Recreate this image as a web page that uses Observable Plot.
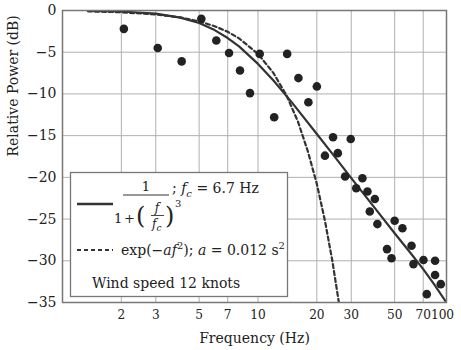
<!DOCTYPE html>
<html>
<head>
<meta charset="utf-8">
<script src="https://cdn.jsdelivr.net/npm/d3@7"></script>
<script src="https://cdn.jsdelivr.net/npm/@observablehq/plot@0.6"></script>
<style>
  html, body { margin: 0; padding: 0; background: white; }
  #wrap { position: relative; width: 461px; height: 350px; }
  #legend { position: absolute; left: 0; top: 0; pointer-events: none; }
</style>
</head>
<body>
<div id="wrap"></div>
<script>
// Measured spectrum (frequency in Hz, relative power in dB)
const pointFreq = [2.06, 3.07, 4.07, 5.13, 6.12, 7.11, 8.09, 9.10, 10.2, 12.1, 14.1, 16.1, 18.1, 20.0, 22.0, 24.2, 25.6, 27.9, 29.8, 31.8, 34.2, 36.3, 37.3, 39.6, 40.8, 45.7, 48.2, 50.0, 54.8, 61.0, 62.4, 70.2, 73.0, 80.5, 80.5, 86.1];
const pointDb   = [-2.2, -4.5, -6.1, -1.0, -3.6, -5.1, -7.2, -9.9, -5.2, -12.8, -5.2, -8.1, -11.0, -9.1, -17.4, -15.2, -17.1, -19.9, -15.4, -21.3, -20.1, -21.7, -24.1, -22.6, -25.6, -28.6, -29.7, -25.2, -26.1, -28.2, -30.4, -29.9, -34.0, -30.0, -31.7, -32.8];

// Solid model curve 1/(1+(f/fc)^3), fc = 6.7 Hz
const solidFreq = [1.35, 2, 3, 4, 5, 6, 7, 8, 10, 12, 15, 20, 25, 30, 40, 50, 60, 70, 80, 92];
const solidDb   = [-0.05, -0.12, -0.38, -0.85, -1.5, -2.35, -3.3, -4.3, -6.4, -8.4, -11.1, -14.8, -17.7, -20.1, -23.8, -26.7, -29.0, -31.0, -32.9, -35.0];

// Dashed model curve exp(-a f^2), a = 0.012 s^2
const dashFreq = [1.35, 2, 3, 4, 5, 6, 7, 8, 10, 12, 14, 16, 18, 20, 22, 24, 26];
const dashDb   = [-0.1, -0.21, -0.47, -0.83, -1.3, -1.88, -2.55, -3.34, -5.2, -7.5, -10.2, -13.3, -16.9, -20.8, -25.2, -30.0, -35.2];

// Tick labels
const xTicks = [2, 3, 5, 7, 10, 20, 30, 50, 70];
const xEndTick = [100];
const yTicks = [0, -5, -10, -15, -20, -25, -30, -35];
const yGrid = [-5, -10, -15, -20, -25, -30];

const points = pointFreq.map((f, i) => ({f, db: pointDb[i]}));
const solid = solidFreq.map((f, i) => ({f, db: solidDb[i]}));
const dashed = dashFreq.map((f, i) => ({f, db: dashDb[i]}));

const font = "DejaVu Serif";
const tickFont = "'DejaVu Serif Condensed', 'DejaVu Serif'";
const fs = 14;
const fmtY = d => (d < 0 ? "\u2212" + Math.abs(d) : String(d));

const chart = Plot.plot({
  width: 461,
  height: 350,
  marginLeft: 62,
  marginRight: 15,
  marginTop: 10,
  marginBottom: 48,
  style: {fontFamily: font, fontSize: fs + "px", color: "#222", background: "white"},
  x: {type: "log", domain: [1, 100], range: [62, 453], axis: null},
  y: {domain: [-35, 0]},
  marks: [
    Plot.gridX(xTicks, {stroke: "#b0b0b0", strokeOpacity: 1, strokeWidth: 1}),
    Plot.gridY(yGrid, {stroke: "#b0b0b0", strokeOpacity: 1, strokeWidth: 1}),
    Plot.line(dashed, {x: "f", y: "db", stroke: "#333", strokeWidth: 2.2, strokeDasharray: "4,3", clip: true}),
    Plot.line(solid, {x: "f", y: "db", stroke: "#333", strokeWidth: 2.2, clip: true}),
    Plot.dot(points, {x: "f", y: "db", r: 4.3, fill: "#222", stroke: "none"}),
    Plot.frame({stroke: "#777", strokeWidth: 1.5}),
    Plot.text(xTicks, {x: d => d, text: d => String(d), frameAnchor: "bottom", dy: 16, fontSize: 13.5, fontFamily: tickFont, fill: "#222"}),
    Plot.text(xEndTick, {x: d => d, text: d => String(d), frameAnchor: "bottom", dy: 16, dx: -11, fontSize: 13.5, fontFamily: tickFont, fill: "#222"}),
    Plot.axisY(yTicks, {tickSize: 0, tickPadding: 6, label: null, fontSize: fs, tickFormat: fmtY}),
    Plot.text(["Frequency (Hz)"], {frameAnchor: "bottom", dy: 40, fontSize: fs, fill: "#222"}),
    Plot.text(["Relative Power (dB)"], {frameAnchor: "left", dx: -49, rotate: -90, fontSize: fs, fill: "#222"})
  ]
});

const wrap = document.getElementById("wrap");
wrap.appendChild(chart);

const legend = `
<svg id="legend" width="461" height="350" xmlns="http://www.w3.org/2000/svg" font-family="${font}" font-size="14" fill="#222">
  <rect x="70.5" y="172.5" width="217" height="124" fill="white" stroke="#777" stroke-width="1.3"/>
  <line x1="77" x2="113" y1="204" y2="204" stroke="#333" stroke-width="2.6"/>
  <text x="146" y="191" text-anchor="middle" font-size="13">1</text>
  <line x1="123" x2="169" y1="195" y2="195" stroke="#333" stroke-width="1"/>
  <text x="172" y="193">; <tspan font-style="italic">f</tspan><tspan font-style="italic" font-size="10" dy="4">c</tspan><tspan dy="-4"> = 6.7 Hz</tspan></text>
  <text x="114" y="223" font-size="13">1</text>
  <text x="124" y="223" font-size="13">+</text>
  <text x="136" y="224" font-size="24">(</text>
  <text x="157" y="212" text-anchor="middle" font-size="12" font-style="italic">f</text>
  <line x1="151" x2="164" y1="215.5" y2="215.5" stroke="#333" stroke-width="0.9"/>
  <text x="152" y="228" font-size="12" font-style="italic">f<tspan font-size="9" dy="3">c</tspan></text>
  <text x="165" y="224" font-size="24">)</text>
  <text x="175" y="207" font-size="10">3</text>
  <line x1="77" x2="113" y1="250" y2="250" stroke="#333" stroke-width="2.2" stroke-dasharray="4,3"/>
  <text x="121" y="255">exp(−<tspan font-style="italic">af</tspan><tspan font-size="10" dy="-6">2</tspan><tspan dy="6">); </tspan><tspan font-style="italic">a</tspan> = 0.012 s<tspan font-size="10" dy="-6">2</tspan></text>
  <text x="92" y="288" font-size="14">Wind speed 12 knots</text>
</svg>`;
wrap.insertAdjacentHTML("beforeend", legend);
</script>
</body>
</html>
